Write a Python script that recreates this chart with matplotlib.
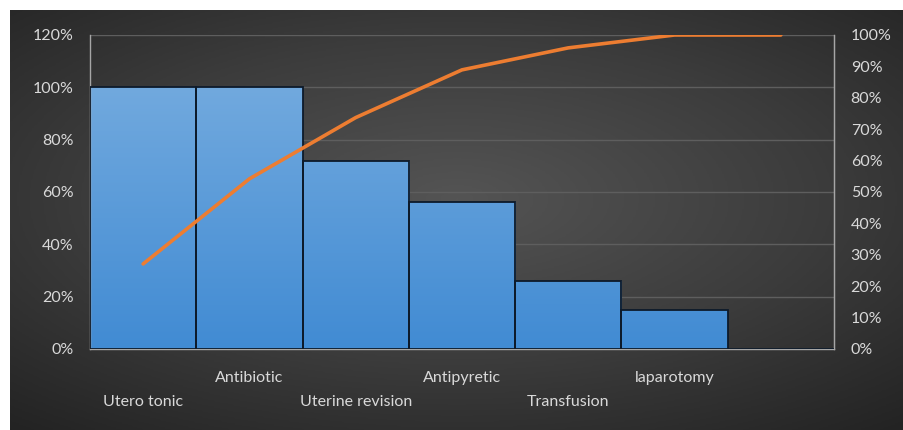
import numpy as np
import matplotlib.pyplot as plt
from matplotlib.colors import LinearSegmentedColormap

plt.rcParams['font.family'] = ['Lato', 'DejaVu Sans']

# interventions, share of cases and cumulative share (pareto)
categories = ["Utero tonic", "Antibiotic", "Uterine revision", "Antipyretic",
              "Transfusion", "laparotomy", ""]
share = [1.00, 1.00, 0.72, 0.56, 0.26, 0.15, 0.0]
cumulative = [0.271, 0.542, 0.737, 0.889, 0.959, 1.0, 1.0]

text_col = "#d9d9d9"
fig = plt.figure(figsize=(9.04, 4.30), dpi=100)
fig.patch.set_facecolor("white")

# dark radial background panel
bg = fig.add_axes([10 / 904, 0, 894 / 904, 420 / 430])
yy, xx = np.mgrid[-1:1:300j, -1:1:600j]
r = np.sqrt((xx * 0.8) ** 2 + ((yy + 0.1) * 0.85) ** 2)
bg_cmap = LinearSegmentedColormap.from_list("bg", ["#545454", "#3c3c3c", "#202020"])
bg.imshow(r, cmap=bg_cmap, aspect="auto", extent=[0, 1, 0, 1], vmin=0, vmax=1.3)
bg.set_axis_off()

ax = fig.add_axes([90 / 904, 81 / 430, 744 / 904, 314 / 430])
ax.patch.set_alpha(0)
x = np.arange(len(categories))
bars = ax.bar(x, share, width=1.0, linewidth=0, color="#5b9bd5", zorder=2)

# vertical gradient inside each bar, then a dark outline on top
bar_cmap = LinearSegmentedColormap.from_list("bar", ["#418bd3", "#71a9de"])
grad = np.linspace(0, 1, 256).reshape(-1, 1)
for b in bars:
    if b.get_height() > 0:
        im = ax.imshow(grad, cmap=bar_cmap, origin="lower", aspect="auto",
                       extent=[b.get_x(), b.get_x() + b.get_width(), 0, 1.0],
                       zorder=2.1)
        im.set_clip_path(b)
ax.bar(x, share, width=1.0, fill=False, edgecolor="#0d1a2a", linewidth=1.3,
       zorder=3)

ax.set_xlim(-0.5, len(categories) - 0.5)
ax.set_ylim(0, 1.2)
ax.set_yticks(np.arange(0, 1.21, 0.2))
ax.set_yticklabels([f"{int(round(v * 100))}%" for v in np.arange(0, 1.21, 0.2)])
ax.yaxis.grid(True, color="#5e5e5e", linewidth=1.0, zorder=0)
ax.set_axisbelow(True)
ax.set_xticks([])
ax.tick_params(axis="y", length=0, labelsize=11.5, labelcolor=text_col, pad=12)
ax.spines["top"].set_visible(False)
for s in ["left", "bottom", "right"]:
    ax.spines[s].set_color("#a6a6a6")
    ax.spines[s].set_linewidth(1.0)

# staggered category labels
for i, name in enumerate(categories):
    yoff = -0.168 if i % 2 == 0 else -0.093
    ax.text(i, yoff, name, transform=ax.get_xaxis_transform(), ha="center",
            va="center", color=text_col, fontsize=11.5)

ax2 = ax.twinx()
ax2.set_ylim(0, 1.0)
ax2.set_yticks(np.arange(0, 1.01, 0.1))
ax2.set_yticklabels([f"{int(round(v * 100))}%" for v in np.arange(0, 1.01, 0.1)])
ax2.tick_params(axis="y", length=0, labelsize=11.5, labelcolor=text_col, pad=12)
for s in ["top", "left", "bottom"]:
    ax2.spines[s].set_visible(False)
ax2.spines["right"].set_color("#a6a6a6")
ax2.plot(x, cumulative, color="#ed7d31", linewidth=2.6, solid_capstyle="round",
         zorder=5)

fig.savefig("out.png", dpi=100)
